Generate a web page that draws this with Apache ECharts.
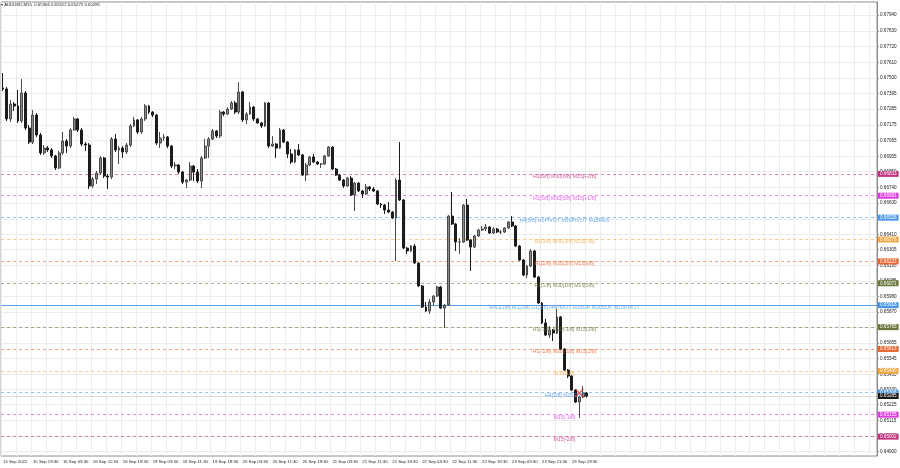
<!DOCTYPE html>
<html><head><meta charset="utf-8">
<script src="https://cdn.jsdelivr.net/npm/echarts@6/dist/echarts.min.js"></script>
<style>html,body{margin:0;padding:0;background:#fff}#c{width:900px;height:468px}</style>
</head><body><div id="c"></div>
<script>
// ---------- data ----------
const symbolName = 'AUDUSD,M15';
const timeTicks = ['15 Sep 2022','15 Sep 19:30','16 Sep 03:30','16 Sep 11:30','16 Sep 19:30','19 Sep 03:30','19 Sep 11:30','19 Sep 19:30','20 Sep 03:30','20 Sep 11:30','20 Sep 19:30','21 Sep 03:30','21 Sep 11:30','21 Sep 19:30','22 Sep 03:30','22 Sep 11:30','22 Sep 19:30','23 Sep 03:30','23 Sep 11:30','23 Sep 19:30'];
const yTicks = [0.67940,0.67830,0.67720,0.67610,0.67500,0.67395,0.67285,0.67175,0.67065,0.66955,0.66850,0.66740,0.66630,0.66520,0.66410,0.66305,0.66195,0.66085,0.65980,0.65870,0.65765,0.65655,0.65545,0.65435,0.65330,0.65225,0.65115,0.65005,0.64900];
// prices in points (1e-5)
const firstOpen = 67432;
const closes = [67425,67216,67320,67306,67202,67397,67153,67055,67243,67104,
 66979,67013,67000,66958,66874,66979,67062,67027,67139,67216,
 67139,67041,67034,66749,66797,66839,66944,66818,66811,67076,
 67000,67013,66986,67034,67167,67209,67125,67216,67306,67264,
 67243,67048,67083,67090,67027,66888,66895,66846,66776,66790,
 66888,66846,66783,66944,67027,67076,67132,67097,67264,67250,
 67285,67327,67264,67404,67209,67250,67299,67216,67188,67167,
 67327,67027,67041,67013,67139,67055,66972,66916,67000,66965,
 66825,66895,66951,66916,66902,66902,66958,67020,66867,66825,
 66790,66749,66804,66686,66769,66714,66693,66742,66728,66714,
 66623,66616,66581,66567,66526,66790,66651,66316,66296,66330,
 66212,66052,65905,65877,65940,65982,66045,65898,65919,66539,
 66484,66358,66358,66616,66372,66323,66400,66442,66449,66463,
 66421,66449,66428,66428,66456,66498,66470,66330,66233,66128,
 66191,66296,66114,65933,65794,65710,65745,65724,65836,65612,
 65466,65424,65327,65243,65278,65306,65285];
const highs = [67536,67439,67348,67334,67418,67494,67411,67174,67278,67257,
 67118,67034,67027,67013,66965,66993,67125,67076,67153,67230,
 67223,67153,67055,67048,66811,66853,66958,66951,66832,67090,
 67111,67027,67027,67048,67181,67230,67216,67230,67320,67313,
 67271,67250,67125,67111,67097,67034,66916,66902,66853,66797,
 66916,66895,66867,66958,67076,67090,67146,67139,67278,67271,
 67299,67341,67341,67473,67411,67264,67334,67306,67223,67195,
 67334,67334,67097,67048,67153,67146,67062,67006,67006,67041,
 66972,66909,66958,66972,66923,66909,66965,67027,67027,66874,
 66832,66797,66811,66818,66776,66776,66721,66763,66749,66742,
 66721,66630,66623,66637,66574,66804,67055,66658,66323,66337,
 66344,66219,66059,65940,65961,65989,66052,66052,65926,66546,
 66707,66491,66386,66623,66658,66379,66407,66449,66470,66484,
 66470,66463,66456,66442,66463,66505,66539,66477,66337,66240,
 66198,66309,66303,66121,65940,65822,65773,65752,65891,65843,
 65619,65473,65431,65334,65285,65355,65312];
const lows = [67411,67202,67195,67271,67188,67188,67139,67041,67041,67090,
 66965,66965,66986,66944,66860,66867,66965,66979,67013,67132,
 67125,67027,66993,66728,66735,66763,66825,66804,66728,66797,
 66986,66902,66944,66972,67020,67160,67111,67111,67202,67250,
 67230,67034,67013,67062,67013,66874,66867,66832,66763,66735,
 66783,66783,66769,66735,66937,66944,67069,67083,67083,67236,
 67243,67278,67250,67250,67195,67181,67243,67202,67181,67153,
 67160,67013,67020,66944,67006,67048,66944,66902,66909,66958,
 66818,66783,66888,66909,66895,66874,66895,66951,66860,66818,
 66783,66735,66742,66679,66574,66707,66665,66686,66714,66707,
 66616,66595,66553,66560,66519,66226,66644,66309,66275,66289,
 66205,66045,65898,65870,65856,65912,65975,65891,65759,65912,
 66477,66296,66275,66351,66365,66156,66316,66393,66435,66435,
 66414,66414,66421,66414,66421,66449,66463,66323,66226,66121,
 66107,66184,66107,65926,65787,65703,65689,65668,65717,65605,
 65459,65410,65320,65236,65132,65271,65275];
const levelValues = [0.66833,0.66681,0.66528,0.66376,0.66223,0.66071,0.65918,0.65765,0.65613,0.65460,0.65308,0.65155,0.65002];
const levelTexts = ['H1[6/8] M30[6/8] M15[+2/8]','H1[5/8] M30[5/8] M15[+1/8]','H4[5/8] H1PIVOT M30PIVOT M15RES','H1[3/8] M30[3/8] M15[7/8]','H1[2/8] M30[2/8] M15[6/8]','H1[1/8] M30[1/8] M15[5/8]','MN1[3/8] W1[3/8] D1[3/8] H4PIVOT H1SUP M30SUP M15PIVOT','H1[-1/8] M30[-1/8] M15[3/8]','H1[-2/8] M30[-2/8] M15[2/8]','M15[1/8]','H4[3/8] M15SUP','M15[-1/8]','M15[-2/8]'];
const bidPrice = 0.65285;
const signalBar = 154, signalPrice = 0.65306;

// ---------- styles ----------
const levelColors = ['#c2307e','#e03ce0','#4a98e6','#f3a640','#e8642e','#68783a','#4a98e6','#68783a','#e8642e','#f3a640','#4a98e6','#e03ce0','#c2307e'];
const nCats = 234;
const labelBar = 150;
const withAlpha = (hex, a) => 'rgba(' + parseInt(hex.slice(1, 3), 16) + ',' + parseInt(hex.slice(3, 5), 16) + ',' + parseInt(hex.slice(5, 7), 16) + ',' + a + ')';

const cats = [];
for (let i = 0; i < nCats; i++) cats.push(i % 8 === 0 && i / 8 < timeTicks.length ? timeTicks[i / 8] : '');
const ohlc = closes.map((c, i) => [(i === 0 ? firstOpen : closes[i - 1]) / 1e5, c / 1e5, lows[i] / 1e5, highs[i] / 1e5]);
const last = ohlc[ohlc.length - 1];

const chart = echarts.init(document.getElementById('c'), null, {renderer: 'canvas'});
const FONT = 'Liberation Sans';
const anchor = [[0, levelValues[0]]];
chart.setOption({
  animation: false,
  backgroundColor: '#ffffff',
  textStyle: {fontFamily: FONT},
  title: {
    text: '\u25BE ' + symbolName + '  ' + [last[0], last[3], last[2], last[1]].map(v => v.toFixed(5)).join(' '),
    left: 1, top: 3, padding: 0,
    textStyle: {fontSize: 4.3, fontWeight: 'normal', color: '#222', fontFamily: FONT}
  },
  grid: {left: 1, right: 23, top: 2, bottom: 12, show: true, borderColor: '#8c8c8c', borderWidth: 1, backgroundColor: 'transparent'},
  xAxis: {
    type: 'category', data: cats, boundaryGap: true,
    axisLine: {show: false}, axisTick: {show: false},
    axisLabel: {interval: (i, v) => v !== '', fontSize: 4.3, color: '#222', align: 'left', margin: 4, hideOverlap: false, fontFamily: FONT},
    splitLine: {show: true, interval: 3, lineStyle: {color: '#ececec', width: 1}}
  },
  yAxis: {
    type: 'value', position: 'right', min: 0.64867, max: 0.68031, scale: true,
    axisLine: {show: true, lineStyle: {color: '#8c8c8c'}},
    axisTick: {show: true, length: 2, customValues: yTicks, lineStyle: {color: '#8c8c8c'}},
    axisLabel: {customValues: yTicks, formatter: v => v.toFixed(5), fontSize: 4.6, color: '#222', margin: 3, fontFamily: FONT},
    splitLine: {show: false}
  },
  series: [
    {
      type: 'scatter', data: anchor, symbolSize: 0, silent: true, z: 1,
      markLine: {silent: true, symbol: ['none', 'none'], animation: false, precision: 5,
        lineStyle: {color: '#ececec', type: 'solid', width: 1}, label: {show: false},
        data: yTicks.map(v => ({yAxis: v}))}
    },
    {
      type: 'scatter', data: anchor, symbolSize: 0, silent: true, z: 3,
      markLine: {silent: true, symbol: ['none', 'none'], animation: false, precision: 5,
        data: levelValues.map((v, i) => ({
          yAxis: v,
          lineStyle: {color: withAlpha(levelColors[i], i === 6 ? 0.9 : 0.6), type: i === 6 ? 'solid' : [3, 3], width: 1},
          label: {show: true, position: 'end', distance: 1, formatter: () => v.toFixed(5), backgroundColor: levelColors[i], color: '#fff', fontSize: 4.6, padding: [1, 2, 0, 2], fontFamily: FONT}
        })).concat([{
          yAxis: bidPrice,
          lineStyle: {color: 'rgba(184,184,184,0.5)', type: 'solid', width: 1},
          label: {show: true, position: 'end', distance: 1, formatter: () => bidPrice.toFixed(5), backgroundColor: '#1a1a1a', color: '#fff', fontSize: 4.6, padding: [1, 2, 0, 2], fontFamily: FONT}
        }])}
    },
    {
      type: 'candlestick', data: ohlc, barWidth: 2.4, z: 5,
      itemStyle: {color: '#8a8a8a', color0: '#1c1c1c', borderColor: '#4a4a4a', borderColor0: '#1c1c1c', borderWidth: 1}
    },
    {
      type: 'scatter', symbolSize: 0, silent: true, z: 6,
      data: levelValues.map((v, i) => ({
        value: [labelBar, v],
        label: {show: true, position: 'inside', offset: [0, 2.5], formatter: levelTexts[i], color: levelColors[i], fontSize: 5.2, fontFamily: FONT}
      }))
    },
    {
      type: 'scatter', silent: true, z: 7,
      symbol: 'path://M0,1 L1,0 L5,4 L9,0 L10,1 L6,5 L10,9 L9,10 L5,6 L1,10 L0,9 L4,5 Z',
      symbolSize: 9, itemStyle: {color: '#e23b3b'},
      data: [[signalBar, signalPrice]]
    }
  ]
});
</script></body></html>
